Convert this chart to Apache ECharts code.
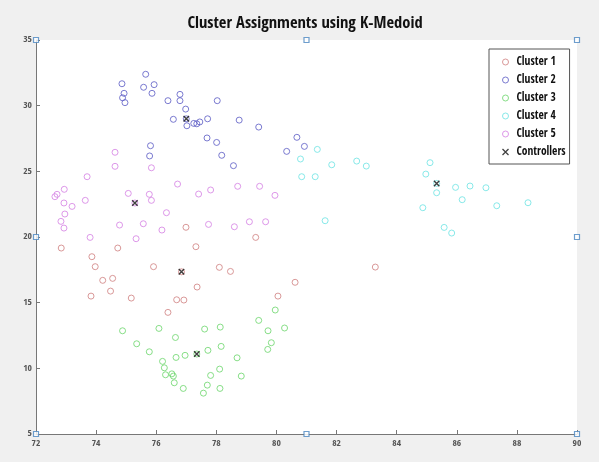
<!DOCTYPE html>
<html><head><meta charset="utf-8">
<script src="https://cdn.jsdelivr.net/npm/echarts@6/dist/echarts.min.js"></script>
<style>html,body{margin:0;padding:0;background:#f0f0f0;}#c{width:599px;height:462px;}</style>
</head><body><div id="c"></div>
<script>
const titleText = 'Cluster Assignments using K-Medoid';
const seriesNames = ['Cluster 1','Cluster 2','Cluster 3','Cluster 4','Cluster 5','Controllers'];
const xTicks = [72,74,76,78,80,82,84,86,88,90];
const yTicks = [5,10,15,20,25,30,35];

const cluster1 = [[72.84,19.16],[74.72,19.16],[76.99,20.74],[77.32,19.26],[73.86,18.50],[73.97,17.74],[75.91,17.74],[76.84,17.35],[78.10,17.69],[78.47,17.38],[74.22,16.70],[74.55,16.85],[74.48,15.88],[73.83,15.50],[75.17,15.35],[77.36,16.19],[76.68,15.22],[76.92,15.20],[76.39,14.26],[79.31,19.97],[83.29,17.71],[80.62,16.55],[80.05,15.50]];
const cluster2 = [[75.65,32.39],[74.86,31.67],[75.58,31.40],[75.93,31.60],[75.86,30.94],[74.93,30.94],[74.88,30.60],[74.96,30.23],[76.39,30.38],[76.79,30.86],[76.79,30.38],[76.98,29.74],[77.00,29.00],[76.57,28.96],[77.02,28.47],[77.25,28.65],[77.35,28.62],[77.45,28.76],[77.71,29.00],[78.03,30.38],[78.76,28.90],[77.69,27.54],[78.01,27.20],[78.18,26.22],[78.57,25.43],[75.81,26.95],[75.78,26.17],[79.41,28.37],[80.68,27.59],[80.93,26.90],[80.34,26.52]];
const cluster3 = [[74.88,12.86],[76.09,13.04],[76.64,12.35],[77.61,12.99],[78.13,13.14],[75.35,11.87],[75.77,11.26],[76.66,10.83],[76.96,10.99],[77.35,11.09],[77.72,11.37],[78.16,11.67],[78.69,10.80],[76.21,10.53],[76.27,10.04],[76.31,9.51],[76.52,9.58],[76.57,9.41],[76.60,8.90],[76.90,8.47],[77.57,8.11],[77.70,8.72],[77.81,9.46],[78.11,9.94],[78.12,8.47],[78.83,9.41],[79.96,14.44],[79.41,13.65],[80.27,13.07],[79.72,12.86],[79.83,11.95],[79.71,11.44]];
const cluster4 = [[81.62,21.24],[81.36,26.67],[80.80,25.94],[81.84,25.50],[82.67,25.78],[82.99,25.40],[80.84,24.59],[81.29,24.59],[85.11,25.66],[84.97,24.79],[85.33,24.08],[85.33,23.37],[85.96,23.78],[86.44,23.88],[86.97,23.75],[86.18,22.84],[84.87,22.23],[87.33,22.38],[88.37,22.61],[85.58,20.73],[85.83,20.30]];
const cluster5 = [[75.84,25.27],[74.63,26.45],[74.63,25.38],[73.70,24.59],[72.94,23.63],[72.70,23.25],[72.63,23.07],[72.93,22.59],[73.20,22.33],[73.64,22.79],[72.96,21.75],[72.83,21.19],[72.93,20.68],[73.80,19.97],[75.07,23.32],[75.29,22.59],[75.77,23.25],[75.84,22.79],[76.71,24.03],[77.41,23.27],[77.81,23.58],[78.71,23.86],[76.34,21.85],[74.78,20.91],[75.57,21.01],[76.19,20.53],[77.74,20.96],[78.60,20.78],[75.33,19.87],[79.10,21.16],[79.64,21.16],[79.44,23.86],[79.95,23.17]];
const controllers = [[77.00,29.00],[75.29,22.59],[76.84,17.35],[77.35,11.09],[85.33,24.08]];
const boundary = [[72,35],[81,35],[90,35],[72,20],[90,20],[72,5],[81,5],[90,5]];

const colors = ['#d07f7f','#5a5ac4','#6ad66a','#6be3e3','#d47fe3','#111111'];
const FONT = '"Liberation Sans Narrow","Open Sans Condensed","DejaVu Sans Condensed","Liberation Sans",sans-serif';
const xPath = 'path://M0,0L10,10M10,0L0,10';

const chart = echarts.init(document.getElementById('c'), null, {renderer:'canvas'});
const clusters = [cluster1,cluster2,cluster3,cluster4,cluster5];
const series = clusters.map((d,i)=>({
  name: seriesNames[i], type:'scatter', data:d, symbol:'circle', symbolSize:6,
  itemStyle:{color:'rgba(255,255,255,0)', borderColor:colors[i], borderWidth:1}, z:2
}));
series.push({
  name: seriesNames[5], type:'scatter', data:controllers, symbol:xPath, symbolSize:5.5,
  itemStyle:{color:'none', borderColor:'#111', borderWidth:1.4}, z:4
});
series.push({
  name:'bounds', type:'scatter', data:boundary, symbol:'rect', symbolSize:5,
  itemStyle:{color:'#ffffff', borderColor:'#4a86c0', borderWidth:1.2}, z:5
});

chart.setOption({
  backgroundColor:'#f0f0f0',
  animation:false,
  title:{text:titleText, left:300, textAlign:'center', top:10,
    textStyle:{fontFamily:FONT, fontSize:16.5, fontWeight:'bold', color:'#111'}},
  legend:{
    data: seriesNames.map((n,i)=>({name:n, icon: i<5 ? 'circle' : xPath,
      itemStyle: i<5 ? {color:'#ffffff', borderColor:colors[i], borderWidth:1} : {color:'none', borderColor:'#111', borderWidth:1.3}})),
    orient:'vertical', left:489, top:49, itemWidth:6, itemHeight:6, itemGap:6,
    backgroundColor:'#ffffff', borderColor:'#555', borderWidth:1, padding:[7,4,6,11],
    textStyle:{fontFamily:FONT, fontSize:11.5, fontWeight:'bold', color:'#111', padding:[0,0,0,3]}
  },
  grid:{left:36, right:22, top:40, bottom:28, show:true, backgroundColor:'#ffffff', borderWidth:0},
  xAxis:{type:'value', min:72, max:90, interval:2,
    axisLine:{lineStyle:{color:'#777'}}, axisTick:{inside:true, length:4, lineStyle:{color:'#777'}},
    splitLine:{show:false},
    axisLabel:{fontFamily:FONT, fontSize:9.5, color:'#555', margin:5}},
  yAxis:{type:'value', min:5, max:35, interval:5,
    axisLine:{show:true, lineStyle:{color:'#777'}}, axisTick:{show:true, inside:true, length:4, lineStyle:{color:'#777'}},
    splitLine:{show:false},
    axisLabel:{fontFamily:FONT, fontSize:9.5, color:'#555', margin:4}},
  series: series
});
</script></body></html>
